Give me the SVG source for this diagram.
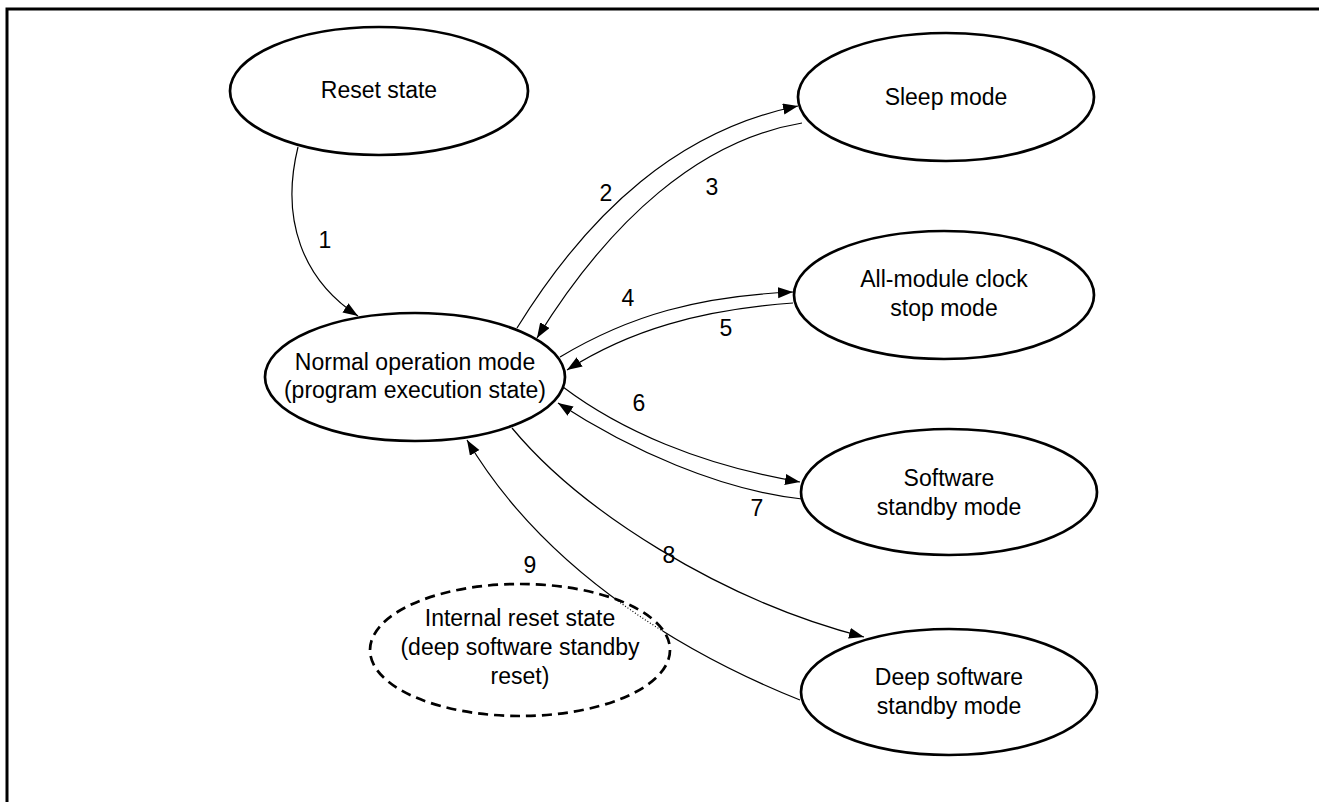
<svg xmlns="http://www.w3.org/2000/svg" width="1319" height="802" viewBox="0 0 1319 802">
<style>
.node{fill:#fff;stroke:#000;stroke-width:2.7}
.dash{stroke-dasharray:10,6}
.t{font-family:"Liberation Sans",Arial,sans-serif;font-size:23px;fill:#000;text-anchor:middle}
.c{fill:none;stroke:#000;stroke-width:1.2}
.frame{fill:none;stroke:#000;stroke-width:3}
</style>
<defs>
<marker id="ah" markerUnits="userSpaceOnUse" markerWidth="16" markerHeight="12" refX="15" refY="5.5" orient="auto">
<path d="M0,0 L15,5.5 L0,11 z" fill="#000"/>
</marker>
<clipPath id="inIR"><ellipse cx="520" cy="650" rx="149" ry="65"/></clipPath>
<mask id="outIR"><rect x="0" y="0" width="1319" height="802" fill="#fff"/><ellipse cx="520" cy="650" rx="149" ry="65" fill="#000"/></mask>
</defs>
<path class="frame" d="M7,802 V9 H1319"/>
<g id="reset"><ellipse class="node" cx="379" cy="91" rx="149" ry="64"/><text class="t" x="379" y="98">Reset state</text></g>
<g id="normal"><ellipse class="node" cx="415" cy="377" rx="150" ry="64"/><text class="t" x="415" y="370">Normal operation mode</text><text class="t" x="415" y="398">(program execution state)</text></g>
<g id="sleep"><ellipse class="node" cx="946" cy="97" rx="148" ry="64"/><text class="t" x="946" y="105">Sleep mode</text></g>
<g id="allmodule"><ellipse class="node" cx="944" cy="295" rx="150" ry="64"/><text class="t" x="944" y="287">All-module clock</text><text class="t" x="944" y="316">stop mode</text></g>
<g id="swstandby"><ellipse class="node" cx="949" cy="492" rx="148" ry="63"/><text class="t" x="949" y="486">Software</text><text class="t" x="949" y="515">standby mode</text></g>
<g id="deepstandby"><ellipse class="node" cx="949" cy="692" rx="148" ry="63"/><text class="t" x="949" y="685">Deep software</text><text class="t" x="949" y="714">standby mode</text></g>
<g id="internalreset"><ellipse class="node dash" cx="520" cy="650" rx="150" ry="66"/><text class="t" x="520" y="626">Internal reset state</text><text class="t" x="520" y="655">(deep software standby</text><text class="t" x="520" y="684">reset)</text></g>
<g id="connectors">
<path class="c" marker-end="url(#ah)" d="M298,147 C280,220 303,280 358,316"/>
<path class="c" marker-end="url(#ah)" d="M517,328 C590,210 680,130 798,106"/>
<path class="c" marker-end="url(#ah)" d="M802,123 C700,140 610,220 537,338"/>
<path class="c" marker-end="url(#ah)" d="M560,357 C630,315 700,296 793,292"/>
<path class="c" marker-end="url(#ah)" d="M793,303 C700,310 630,330 567,370"/>
<path class="c" marker-end="url(#ah)" d="M563,387 C620,430 700,465 800,482"/>
<path class="c" marker-end="url(#ah)" d="M802,499 C720,490 630,450 558,403"/>
<path class="c" marker-end="url(#ah)" d="M512,428 C580,510 720,600 864,637"/>
<path class="c" marker-end="url(#ah)" mask="url(#outIR)" d="M800,700 C700,660 550,580 467,440"/>
<path class="c" clip-path="url(#inIR)" stroke-dasharray="1,2" d="M800,700 C700,660 550,580 467,440"/>
<text class="t" x="325" y="248">1</text>
<text class="t" x="606" y="201">2</text>
<text class="t" x="712" y="195">3</text>
<text class="t" x="628" y="306">4</text>
<text class="t" x="726" y="336">5</text>
<text class="t" x="639" y="411">6</text>
<text class="t" x="757" y="516">7</text>
<text class="t" x="669" y="563">8</text>
<text class="t" x="530" y="573">9</text>
</g>
</svg>
